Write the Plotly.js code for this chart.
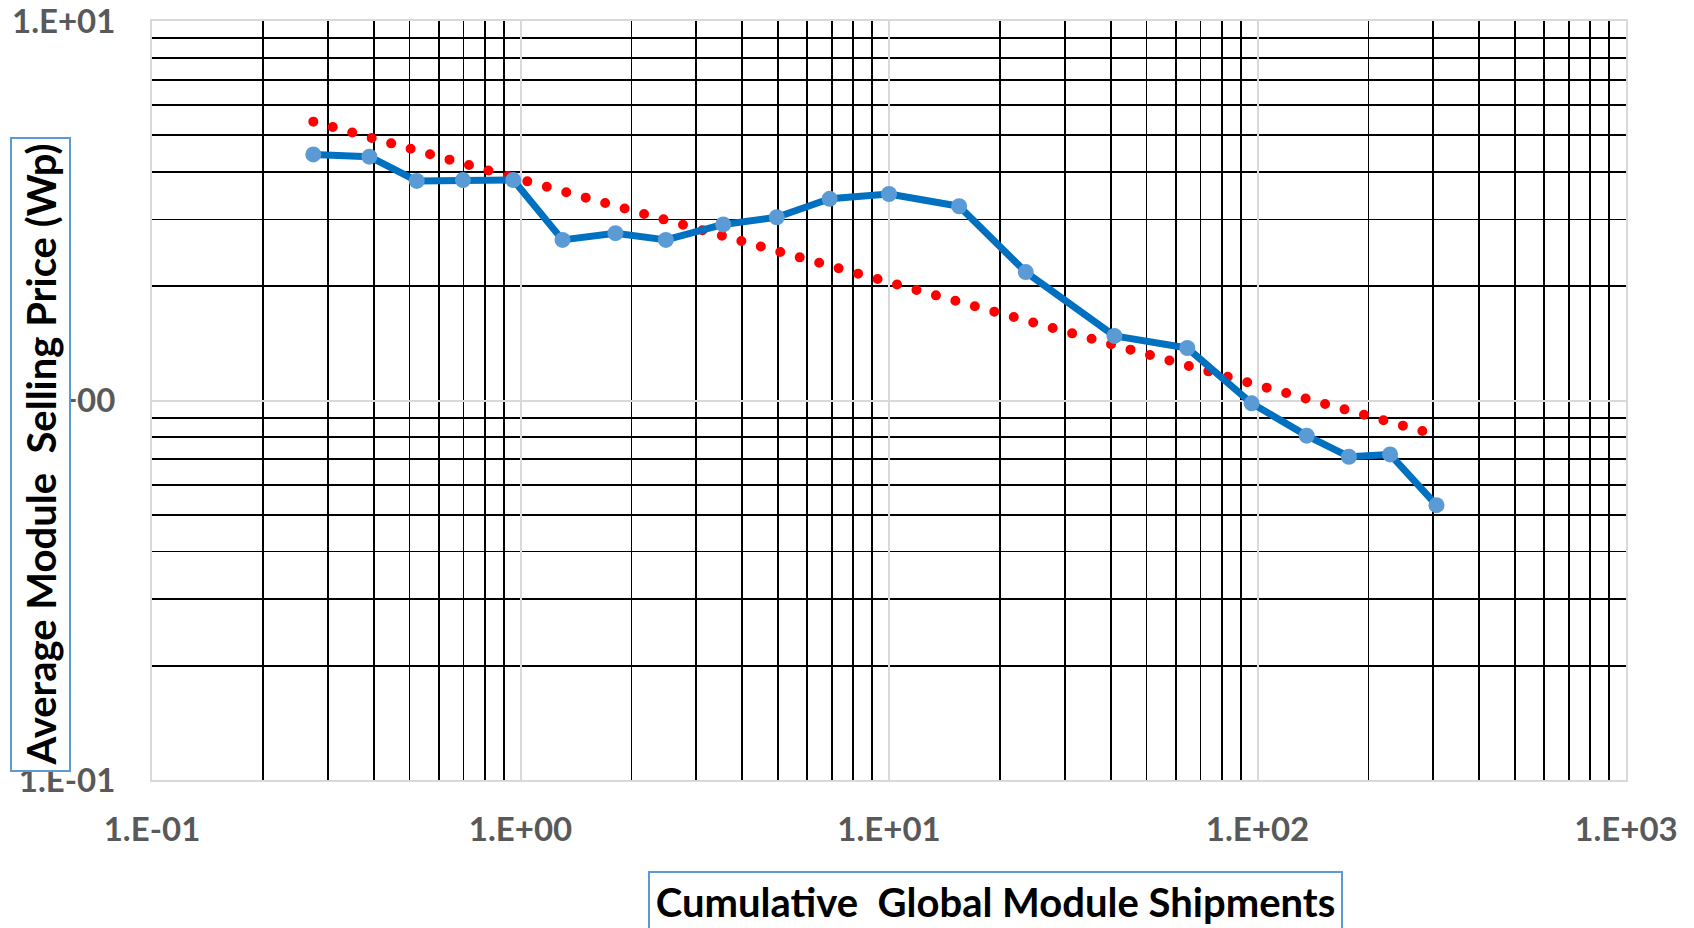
<!DOCTYPE html>
<html>
<head>
<meta charset="utf-8">
<script src="https://cdn.plot.ly/plotly-3.0.1.min.js"></script>
<style>
  html, body { margin: 0; padding: 0; background: #fff; }
  #chart { width: 1694px; height: 928px; }
  .scatterlayer path.js-line { stroke-linecap: round; stroke-linejoin: round; }
</style>
</head>
<body>
<div id="chart"></div>
<script>
// Cumulative global module shipments (x) and average module selling price (y)
const shipments = [0.274, 0.389, 0.523, 0.698, 0.956, 1.30, 1.81, 2.48, 3.55, 4.96, 6.90, 10.0, 15.5, 23.5, 40.9, 64.5, 96.4, 136, 177, 229, 306];
const prices    = [4.45, 4.39, 3.79, 3.81, 3.81, 2.65, 2.76, 2.65, 2.91, 3.04, 3.40, 3.50, 3.25, 2.18, 1.48, 1.375, 0.983, 0.808, 0.711, 0.721, 0.530];

// Power trendline end points
const trendX = [0.274, 306];
const trendY = [5.43, 0.811];

// Tick labels
const xTickVals = [0.1, 1, 10, 100, 1000];
const xTickText = ["1.E-01", "1.E+00", "1.E+01", "1.E+02", "1.E+03"];
const yTickVals = [0.1, 1, 10];
const yTickText = ["1.E-01", "1.E+00", "1.E+01"];

const xTitle = "Cumulative\u00A0 Global Module Shipments";
const yTitle = "Average Module\u00A0 Selling Price (Wp)";

const tickFont = {family: "Lato, 'Open Sans', sans-serif", size: 33, color: "#595959", weight: "bold"};
const titleFont = {family: "Lato, 'Open Sans', sans-serif", size: 40, color: "#000000", weight: "bold"};

const traces = [
  {
    x: trendX, y: trendY, type: "scatter", mode: "lines",
    line: {color: "#FF0000", width: 10, dash: "0px,20.2px"},
    hoverinfo: "skip", showlegend: false
  },
  {
    x: shipments, y: prices, type: "scatter", mode: "lines+markers",
    line: {color: "#0070C0", width: 7},
    marker: {color: "#5B9BD5", size: 16, line: {width: 0}},
    showlegend: false
  }
];

const axisCommon = {
  type: "log",
  tickmode: "array",
  showgrid: true,
  gridcolor: "#D9D9D9",
  gridwidth: 2,
  zeroline: false,
  showline: true,
  linecolor: "#D9D9D9",
  linewidth: 2,
  mirror: true,
  ticks: "",
  tickfont: tickFont,
  ticklabeloverflow: "allow",
  minor: {dtick: "D1", showgrid: true, gridcolor: "#000000", gridwidth: 1.8, ticks: ""}
};

const layout = {
  width: 1694, height: 928,
  margin: {l: 152, r: 68, t: 21, b: 148},
  paper_bgcolor: "#ffffff",
  plot_bgcolor: "#ffffff",
  showlegend: false,
  xaxis: Object.assign({}, axisCommon, {
    range: [-1, 3],
    tickvals: xTickVals, ticktext: xTickText,
    ticklabelstandoff: 19
  }),
  yaxis: Object.assign({}, axisCommon, {
    range: [-1, 1],
    tickvals: yTickVals, ticktext: yTickText,
    ticklabelstandoff: 28
  }),
  annotations: [
    {
      text: yTitle, xref: "paper", yref: "paper",
      x: -0.07564, y: 0.42885, xanchor: "center", yanchor: "middle",
      showarrow: false, textangle: -90,
      width: 631, height: 57,
      bgcolor: "#ffffff", bordercolor: "#5B9BD5", borderwidth: 2, borderpad: 0,
      font: titleFont
    },
    {
      text: xTitle, xref: "paper", yref: "paper",
      x: 0.57225, y: -0.16008, xanchor: "center", yanchor: "middle",
      showarrow: false,
      width: 691, height: 57,
      bgcolor: "#ffffff", bordercolor: "#5B9BD5", borderwidth: 2, borderpad: 0,
      font: titleFont
    }
  ]
};

Plotly.newPlot("chart", traces, layout, {displayModeBar: false, staticPlot: true});
</script>
</body>
</html>
